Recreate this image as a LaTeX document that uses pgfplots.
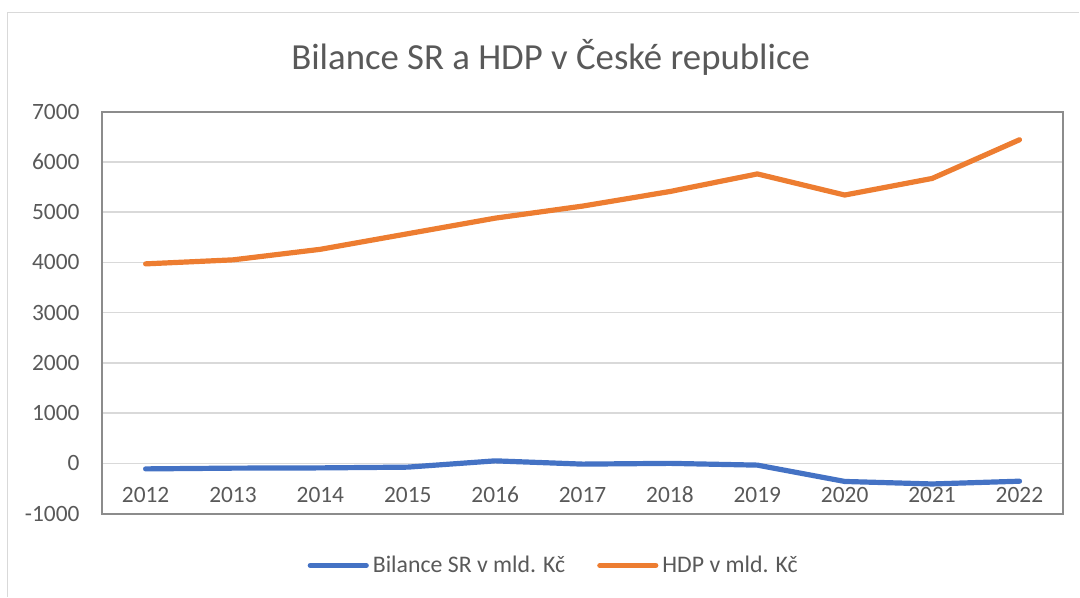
\documentclass[border=0pt]{standalone}
\usepackage{pgfplots}
\pgfplotsset{compat=1.18}
\usepackage{fontspec}
\setmainfont{Carlito}
\definecolor{cblue}{HTML}{4472C4}
\definecolor{corange}{HTML}{ED7D31}
\definecolor{tgray}{HTML}{595959}
\definecolor{ggray}{HTML}{D9D9D9}
\definecolor{fgray}{HTML}{8C8C8C}
\begin{document}
\begin{tikzpicture}
\begin{axis}[
  scale only axis,
  width=481pt, height=201.15pt,
  xmin=2011.5, xmax=2022.5,
  ymin=-1000, ymax=7000,
  xtick={2012,...,2022},
  ytick={-1000,0,...,7000},
  xticklabels={2012,2013,2014,2015,2016,2017,2018,2019,2020,2021,2022},
  major tick length=0pt,
  ymajorgrids,
  grid style={ggray, line width=0.8pt},
  axis line style={fgray, line width=0.9pt},
  /pgf/number format/assume math mode=true,
  /pgf/number format/1000 sep={},
  tick label style={font=\fontsize{11.7}{14}\selectfont, text=tgray, inner sep=0pt},
  xticklabel style={anchor=base, yshift=5.65pt},
  yticklabel style={anchor=east, xshift=-11pt},
  legend columns=2,
  legend style={at={(0.471,-0.129)}, anchor=center, draw=none, fill=none,
    font=\fontsize{11.9}{14}\selectfont, text=tgray,
    nodes={inner sep=2pt},
    /tikz/every even column/.append style={column sep=14pt}},
  legend cell align=left,
  legend image code/.code={\draw[#1, line cap=round] (0pt,0pt) -- (28pt,0pt);},
  every axis plot/.append style={line width=2.6pt, line join=round, line cap=round},
  clip=false,
]
\addplot[cblue] coordinates {
 (2012,-110) (2013,-95) (2014,-90) (2015,-75) (2016,50) (2017,-15)
 (2018,0) (2019,-35) (2020,-360) (2021,-410) (2022,-355)};
\addlegendentry{Bilance SR v mld. Kč}
\addplot[corange] coordinates {
 (2012,3970) (2013,4050) (2014,4260) (2015,4570) (2016,4880) (2017,5120)
 (2018,5410) (2019,5760) (2020,5340) (2021,5670) (2022,6440)};
\addlegendentry{HDP v mld. Kč}
\draw[ggray, line width=0.8pt] (rel axis cs:-0.09844,-0.20631) -- (rel axis cs:-0.09844,1.24609) -- (rel axis cs:1.01663,1.24609);
\node[text=tgray, font=\fontsize{18.4}{22}\selectfont, anchor=center] at (rel axis cs:0.46674,1.13597) {Bilance SR a HDP v České republice};
\useasboundingbox (rel axis cs:-0.10603,-0.20631) rectangle (rel axis cs:1.01663,1.27765);
\end{axis}
\end{tikzpicture}
\end{document}
